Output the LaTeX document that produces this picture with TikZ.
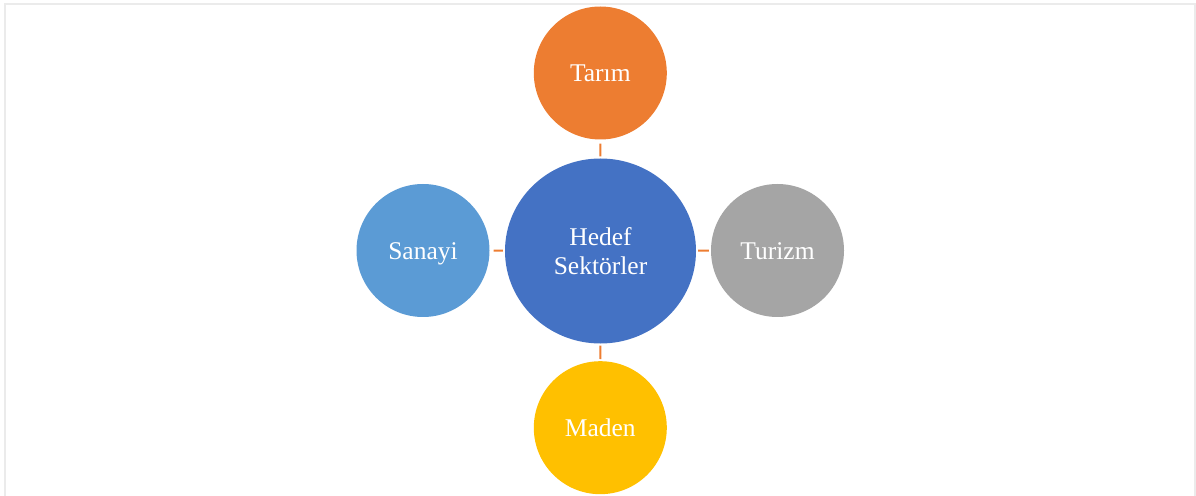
\documentclass[tikz,border=0pt]{standalone}
\usepackage{fontspec}
\setmainfont{Liberation Serif}
\usetikzlibrary{shapes.geometric}
\definecolor{cOrange}{HTML}{ED7D31}
\definecolor{cBlue}{HTML}{4472C4}
\definecolor{cLight}{HTML}{5B9BD5}
\definecolor{cGray}{HTML}{A5A5A5}
\definecolor{cGold}{HTML}{FFC000}
\definecolor{cFrame}{HTML}{EBEBEB}
\tikzset{
  bubble/.style={circle, minimum size=133bp, inner sep=0pt, text=white,
    font=\fontsize{25.5bp}{28.3bp}\selectfont, text height=22.7bp, text depth=5.5bp},
  hub/.style={ellipse, minimum width=191bp, minimum height=185bp, inner sep=0pt,
    fill=cBlue, text=white, font=\fontsize{25.5bp}{28.3bp}\selectfont, align=center},
  link/.style={draw=cOrange, line width=2bp, shorten <=2bp, shorten >=2bp}
}
\begin{document}
\begin{tikzpicture}[x=1bp, y=-1bp]
\useasboundingbox (0,0) rectangle (1196,496);
\draw[cFrame, line width=1.5bp] (5,510) -- (5,4) -- (1195,4) -- (1195,510);
\node[hub] (hub) at (600.5,251) {Hedef\\Sektörler};
\node[bubble, fill=cOrange] (tarim) at (600.3,73) {Tarım};
\node[bubble, fill=cLight] (sanayi) at (423,250.5) {Sanayi};
\node[bubble, fill=cGray] (turizm) at (777.5,250.5) {Turizm};
\node[bubble, fill=cGold] (maden) at (600.3,427.7) {Maden};
\draw[link, shorten <=4bp] (tarim) -- (hub);
\draw[link] (hub) -- (maden);
\draw[link, shorten <=4bp] (sanayi) -- (hub);
\draw[link] (hub) -- (turizm);
\end{tikzpicture}
\end{document}
